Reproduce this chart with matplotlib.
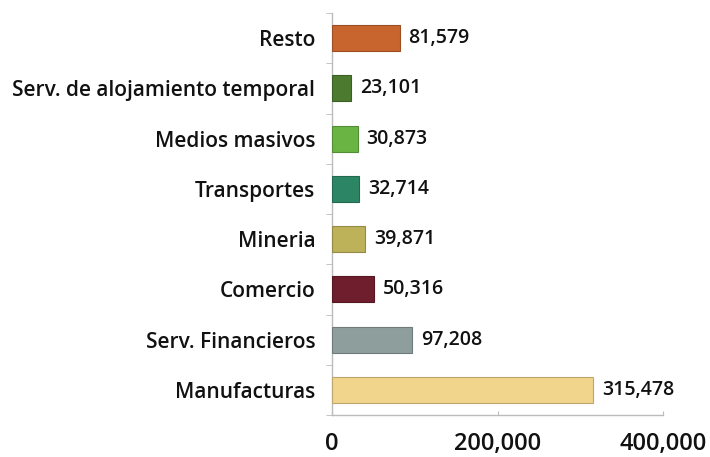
import matplotlib
matplotlib.use("Agg")
import matplotlib.pyplot as plt
import numpy as np

categories = ["Manufacturas", "Serv. Financieros", "Comercio", "Mineria",
              "Transportes", "Medios masivos", "Serv. de alojamiento temporal", "Resto"]
values = [315478, 97208, 50316, 39871, 32714, 30873, 23101, 81579]
colors = ["#F2D58C", "#8E9E9C", "#6E1E2C", "#BDB25A",
          "#2C8666", "#6AB444", "#4C7A2E", "#C8652E"]
xticks = [0, 200000, 400000]

plt.rcParams['font.family'] = ['Open Sans', 'DejaVu Sans']

fig = plt.figure(figsize=(7.10, 4.57), dpi=100)
ax = fig.add_axes([332/710, 1-415/457, (663-332)/710, (415-13)/457])

y = np.arange(len(categories))
bars = ax.barh(y, values, height=0.52, color=colors, linewidth=0.8, zorder=3)
for b, c in zip(bars, colors):
    rgb = np.array(matplotlib.colors.to_rgb(c))
    b.set_edgecolor(tuple(rgb * 0.78))

for yi, v in zip(y, values):
    ax.text(v + 11000, yi, f"{v:,}", va="center", ha="left", fontsize=14,
            fontweight="semibold", color="#111111", zorder=4)

ax.set_xlim(0, 400000)
ax.set_ylim(-0.5, len(categories) - 0.5)
ax.set_yticks(y)
ax.set_yticklabels(categories, fontsize=15, fontweight="semibold", color="#111111")
ax.set_yticks(np.arange(-0.5, len(categories)), minor=True)
ax.tick_params(axis="y", which="major", length=0, pad=12)
ax.tick_params(axis="y", which="minor", length=4, color="#BBBBBB", direction="out")
ax.set_xticks(xticks)
ax.set_xticklabels([f"{t:,}" for t in xticks], fontsize=17, fontweight="semibold", color="#111111")
ax.tick_params(axis="x", length=3, color="#BBBBBB", direction="in", pad=12)

for s in ["top", "right"]:
    ax.spines[s].set_visible(False)
for s in ["left", "bottom"]:
    ax.spines[s].set_color("#BBBBBB")
    ax.spines[s].set_linewidth(1)

fig.savefig("out.png", dpi=100)
